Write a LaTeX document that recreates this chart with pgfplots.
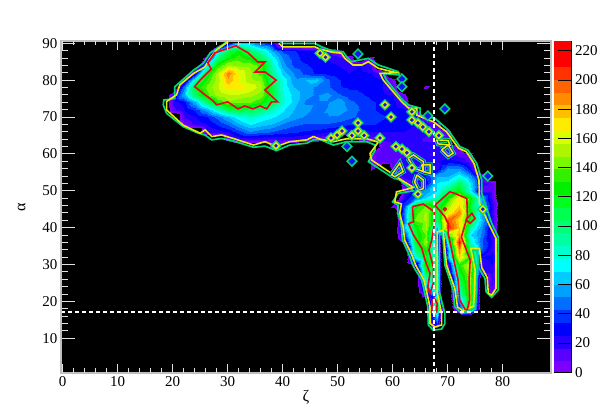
\documentclass[border=0pt]{standalone}
\usepackage{fontspec}
\setmainfont{Liberation Serif}
\usepackage{pgfplots}
\pgfplotsset{compat=1.18}
\definecolor{cgreen}{RGB}{0,215,120}
\definecolor{cyell}{RGB}{235,235,0}
\definecolor{cred}{RGB}{240,0,30}
\definecolor{cblue}{RGB}{20,20,240}
\definecolor{spine}{RGB}{190,190,190}
\definecolor{tickc}{RGB}{225,225,225}
\pgfplotsset{colormap={bands}{
rgb255=(0,0,0) rgb255=(0,0,0) rgb255=(0,0,0) rgb255=(0,0,0) rgb255=(125,0,255) rgb255=(90,0,255) rgb255=(40,0,255) rgb255=(0,0,255)
rgb255=(0,50,255) rgb255=(0,110,255) rgb255=(0,160,255) rgb255=(0,205,255) rgb255=(0,255,255)
rgb255=(0,255,205) rgb255=(0,255,160) rgb255=(0,255,120) rgb255=(0,255,80) rgb255=(0,255,30)
rgb255=(0,240,0) rgb255=(50,240,0) rgb255=(120,250,0) rgb255=(175,245,0) rgb255=(215,255,0)
rgb255=(255,235,0) rgb255=(255,190,0) rgb255=(255,140,0) rgb255=(255,100,0) rgb255=(255,50,0)
rgb255=(255,0,0) rgb255=(255,0,0)}}
\newcommand{\lobes}[2]{%
\addplot[#1,line width=#2] coordinates {(62.8,58.8)(63.8,59.7)(65.6,57.9)(65.6,55.2)(64,56.1)(62.8,58.8)};
\addplot[#1,line width=#2] coordinates {(65.3,57)(66.8,57)(66.8,54.7)(65.6,55.2)(65.3,57)};
\addplot[#1,line width=#2] coordinates {(64.4,54.3)(65.6,52.9)(65.6,50.6)(64.7,50.1)(64,52.4)(64.4,54.3)};
\addplot[#1,line width=#2] coordinates {(68,63.8)(70.1,63.6)(70.4,62.4)(68.3,62.7)(68,63.8)};
\addplot[#1,line width=#2] coordinates {(68.9,61.1)(70.1,62.4)(71,60.2)(70.1,59.3)(68.9,61.1)};
\addplot[#1,line width=#2] coordinates {(59.8,54.3)(61.3,57.5)(61.9,55.2)(60.4,53.8)(59.8,54.3)};
}
\begin{document}
\begin{tikzpicture}[x=1pt,y=1pt]
\path[use as bounding box] (0,0) rectangle (613,415);
\begin{axis}[
  at={(61pt,42.3pt)},anchor=south west,scale only axis,width=490pt,height=331.7pt,
  xmin=-0.3,xmax=88.8,ymin=0.68,ymax=90.6,
  xtick={0,10,...,80},ytick={10,20,...,90},minor y tick num=4,
  axis on top,
  axis background/.style={fill=black},
  axis line style={spine,line width=1.6pt},
  tick style={tickc,line width=0.9pt},
  major x tick style={draw=none},
  tick align=inside,
  major tick length=14pt,minor tick length=7pt,
  tick label style={font=\fontsize{15}{15}\selectfont},
  /pgf/number format/assume math mode=true,
  xlabel={ζ},ylabel={α},
  label style={font=\fontsize{16}{16}\selectfont},
  xlabel style={yshift=3pt},
  ylabel style={yshift=10pt},
  colormap name=bands,
  colormap access=piecewise constant,
  point meta min=-36.28,point meta max=226.6,
]
\addplot[surf,shader=interp,mesh/cols=30,mesh/ordering=x varies,point meta=\thisrow{c}] table[row sep=crcr]{
x y c\\
18 90 -30\\20 90 -30\\22 90 -30\\24 90 -30\\26 90 -30\\28 90 -30\\30 90 20\\32 90 70\\34 90 60\\36 90 40\\38 90 30\\40 90 -30\\42 90 -30\\44 90 -30\\46 90 -30\\48 90 -30\\50 90 -30\\52 90 -30\\54 90 -30\\56 90 -30\\58 90 -30\\60 90 -30\\62 90 -30\\64 90 -30\\66 90 -30\\68 90 -30\\70 90 -30\\72 90 -30\\74 90 -30\\76 90 -30\\
18 88 -30\\20 88 -30\\22 88 -30\\24 88 -30\\26 88 -30\\28 88 60\\30 88 110\\32 88 125\\34 88 105\\36 88 85\\38 88 60\\40 88 40\\42 88 35\\44 88 28\\46 88 25\\48 88 15\\50 88 5\\52 88 -30\\54 88 -30\\56 88 -30\\58 88 -30\\60 88 -30\\62 88 -30\\64 88 -30\\66 88 -30\\68 88 -30\\70 88 -30\\72 88 -30\\74 88 -30\\76 88 -30\\
18 86 -30\\20 86 -30\\22 86 -30\\24 86 -30\\26 86 10\\28 86 100\\30 86 125\\32 86 135\\34 86 125\\36 86 105\\38 86 75\\40 86 50\\42 86 38\\44 86 30\\46 86 28\\48 86 25\\50 86 20\\52 86 15\\54 86 -30\\56 86 8\\58 86 -30\\60 86 -30\\62 86 -30\\64 86 -30\\66 86 -30\\68 86 -30\\70 86 -30\\72 86 -30\\74 86 -30\\76 86 -30\\
18 84 -30\\20 84 -30\\22 84 -30\\24 84 -30\\26 84 60\\28 84 130\\30 84 150\\32 84 145\\34 84 145\\36 84 135\\38 84 85\\40 84 55\\42 84 40\\44 84 35\\46 84 30\\48 84 28\\50 84 25\\52 84 22\\54 84 25\\56 84 15\\58 84 -30\\60 84 -30\\62 84 -30\\64 84 -30\\66 84 -30\\68 84 -30\\70 84 -30\\72 84 -30\\74 84 -30\\76 84 -30\\
18 82 -30\\20 82 -30\\22 82 -30\\24 82 20\\26 82 115\\28 82 150\\30 82 190\\32 82 165\\34 82 150\\36 82 135\\38 82 95\\40 82 65\\42 82 50\\44 82 40\\46 82 32\\48 82 30\\50 82 28\\52 82 25\\54 82 28\\56 82 25\\58 82 15\\60 82 -30\\62 82 -30\\64 82 -30\\66 82 -30\\68 82 -30\\70 82 -30\\72 82 -30\\74 82 -30\\76 82 -30\\
18 80 -30\\20 80 -30\\22 80 10\\24 80 85\\26 80 130\\28 80 150\\30 80 180\\32 80 165\\34 80 150\\36 80 145\\38 80 105\\40 80 75\\42 80 55\\44 80 60\\46 80 65\\48 80 45\\50 80 35\\52 80 30\\54 80 30\\56 80 30\\58 80 28\\60 80 5\\62 80 -30\\64 80 -30\\66 80 -30\\68 80 -30\\70 80 -30\\72 80 -30\\74 80 -30\\76 80 -30\\
18 78 -30\\20 78 -30\\22 78 50\\24 78 120\\26 78 140\\28 78 155\\30 78 170\\32 78 170\\34 78 165\\36 78 150\\38 78 110\\40 78 75\\42 78 60\\44 78 55\\46 78 50\\48 78 45\\50 78 35\\52 78 32\\54 78 32\\56 78 30\\58 78 25\\60 78 10\\62 78 -30\\64 78 -30\\66 78 8\\68 78 -30\\70 78 -30\\72 78 -30\\74 78 -30\\76 78 -30\\
18 76 -30\\20 76 20\\22 76 60\\24 76 105\\26 76 135\\28 76 150\\30 76 155\\32 76 155\\34 76 150\\36 76 145\\38 76 115\\40 76 80\\42 76 65\\44 76 55\\46 76 50\\48 76 55\\50 76 45\\52 76 38\\54 76 35\\56 76 32\\58 76 28\\60 76 25\\62 76 5\\64 76 -30\\66 76 -30\\68 76 -30\\70 76 -30\\72 76 -30\\74 76 -30\\76 76 -30\\
18 74 -30\\20 74 20\\22 74 30\\24 74 60\\26 74 100\\28 74 130\\30 74 145\\32 74 140\\34 74 140\\36 74 130\\38 74 110\\40 74 80\\42 74 65\\44 74 50\\46 74 50\\48 74 50\\50 74 60\\52 74 45\\54 74 40\\56 74 35\\58 74 32\\60 74 28\\62 74 15\\64 74 -30\\66 74 -30\\68 74 -30\\70 74 -30\\72 74 -30\\74 74 -30\\76 74 -30\\
18 72 -30\\20 72 12\\22 72 25\\24 72 35\\26 72 55\\28 72 80\\30 72 105\\32 72 115\\34 72 105\\36 72 100\\38 72 85\\40 72 70\\42 72 60\\44 72 55\\46 72 48\\48 72 52\\50 72 60\\52 72 50\\54 72 42\\56 72 35\\58 72 32\\60 72 30\\62 72 28\\64 72 8\\66 72 -30\\68 72 -30\\70 72 -30\\72 72 -30\\74 72 -30\\76 72 -30\\
18 70 -30\\20 70 -30\\22 70 18\\24 70 25\\26 70 32\\28 70 45\\30 70 60\\32 70 75\\34 70 85\\36 70 75\\38 70 70\\40 70 65\\42 70 55\\44 70 50\\46 70 50\\48 70 50\\50 70 48\\52 70 45\\54 70 40\\56 70 38\\58 70 35\\60 70 32\\62 70 30\\64 70 25\\66 70 10\\68 70 -30\\70 70 -30\\72 70 -30\\74 70 -30\\76 70 -30\\
18 68 -30\\20 68 -30\\22 68 5\\24 68 20\\26 68 25\\28 68 35\\30 68 45\\32 68 60\\34 68 70\\36 68 65\\38 68 60\\40 68 50\\42 68 45\\44 68 42\\46 68 42\\48 68 42\\50 68 40\\52 68 35\\54 68 35\\56 68 35\\58 68 32\\60 68 30\\62 68 28\\64 68 25\\66 68 20\\68 68 10\\70 68 -30\\72 68 -30\\74 68 -30\\76 68 -30\\
18 66 -30\\20 66 -30\\22 66 -30\\24 66 -30\\26 66 15\\28 66 20\\30 66 25\\32 66 38\\34 66 50\\36 66 45\\38 66 42\\40 66 38\\42 66 35\\44 66 32\\46 66 30\\48 66 25\\50 66 20\\52 66 18\\54 66 20\\56 66 25\\58 66 25\\60 66 25\\62 66 25\\64 66 20\\66 66 18\\68 66 15\\70 66 8\\72 66 -30\\74 66 -30\\76 66 -30\\
18 64 -30\\20 64 -30\\22 64 -30\\24 64 -30\\26 64 -30\\28 64 -30\\30 64 8\\32 64 20\\34 64 20\\36 64 18\\38 64 15\\40 64 18\\42 64 18\\44 64 15\\46 64 10\\48 64 5\\50 64 -30\\52 64 -30\\54 64 5\\56 64 10\\58 64 18\\60 64 20\\62 64 22\\64 64 18\\66 64 15\\68 64 15\\70 64 12\\72 64 -30\\74 64 -30\\76 64 -30\\
18 62 -30\\20 62 -30\\22 62 -30\\24 62 -30\\26 62 -30\\28 62 -30\\30 62 -30\\32 62 -30\\34 62 -30\\36 62 -30\\38 62 5\\40 62 -30\\42 62 -30\\44 62 -30\\46 62 -30\\48 62 -30\\50 62 -30\\52 62 -30\\54 62 -30\\56 62 -30\\58 62 8\\60 62 15\\62 62 20\\64 62 20\\66 62 20\\68 62 18\\70 62 15\\72 62 5\\74 62 -30\\76 62 -30\\
18 60 -30\\20 60 -30\\22 60 -30\\24 60 -30\\26 60 -30\\28 60 -30\\30 60 -30\\32 60 -30\\34 60 -30\\36 60 -30\\38 60 -30\\40 60 -30\\42 60 -30\\44 60 -30\\46 60 -30\\48 60 -30\\50 60 -30\\52 60 -30\\54 60 -30\\56 60 5\\58 60 12\\60 60 12\\62 60 15\\64 60 18\\66 60 18\\68 60 18\\70 60 18\\72 60 12\\74 60 5\\76 60 -30\\
18 58 -30\\20 58 -30\\22 58 -30\\24 58 -30\\26 58 -30\\28 58 -30\\30 58 -30\\32 58 -30\\34 58 -30\\36 58 -30\\38 58 -30\\40 58 -30\\42 58 -30\\44 58 -30\\46 58 -30\\48 58 -30\\50 58 -30\\52 58 -30\\54 58 -30\\56 58 5\\58 58 12\\60 58 15\\62 58 18\\64 58 22\\66 58 20\\68 58 25\\70 58 30\\72 58 25\\74 58 10\\76 58 -30\\
};
\addplot[surf,shader=interp,mesh/cols=15,mesh/ordering=x varies,point meta=\thisrow{c}] table[row sep=crcr]{
x y c\\
56 58 5\\58 58 12\\60 58 15\\62 58 18\\64 58 22\\66 58 20\\68 58 25\\69 58 28\\70 58 30\\72 58 25\\74 58 10\\76 58 -30\\78 58 -30\\80 58 -30\\82 58 -30\\
56 56 5\\58 56 -30\\60 56 5\\62 56 18\\64 56 25\\66 56 22\\68 56 20\\69 56 40\\70 56 55\\72 56 55\\74 56 30\\76 56 -30\\78 56 -30\\80 56 -30\\82 56 -30\\
56 54 -30\\58 54 -30\\60 54 5\\62 54 20\\64 54 22\\66 54 35\\68 54 60\\69 54 60\\70 54 60\\72 54 75\\74 54 55\\76 54 20\\78 54 -30\\80 54 -30\\82 54 -30\\
56 52 -30\\58 52 -30\\60 52 -30\\62 52 10\\64 52 20\\66 52 30\\68 52 70\\69 52 72\\70 52 75\\72 52 105\\74 52 70\\76 52 25\\78 52 12\\80 52 -30\\82 52 -30\\
56 50 -30\\58 50 -30\\60 50 -30\\62 50 5\\64 50 35\\66 50 55\\68 50 70\\69 50 90\\70 50 105\\72 50 125\\74 50 75\\76 50 10\\78 50 12\\80 50 -30\\82 50 -30\\
56 48 -30\\58 48 -30\\60 48 -30\\62 48 25\\64 48 45\\66 48 70\\68 48 90\\69 48 110\\70 48 130\\72 48 170\\74 48 130\\76 48 60\\78 48 15\\80 48 -30\\82 48 -30\\
56 46 -30\\58 46 -30\\60 46 5\\62 46 40\\64 46 125\\66 46 140\\68 46 115\\69 46 130\\70 46 150\\72 46 175\\74 46 120\\76 46 65\\78 46 25\\80 46 -30\\82 46 -30\\
56 44 -30\\58 44 -30\\60 44 -30\\62 44 50\\64 44 135\\66 44 150\\68 44 105\\69 44 140\\70 44 165\\72 44 190\\74 44 125\\76 44 60\\78 44 20\\80 44 -30\\82 44 -30\\
56 42 -30\\58 42 -30\\60 42 -30\\62 42 45\\64 42 140\\66 42 150\\68 42 100\\69 42 150\\70 42 200\\72 42 170\\74 42 120\\76 42 65\\78 42 25\\80 42 -30\\82 42 -30\\
56 40 -30\\58 40 -30\\60 40 -30\\62 40 60\\64 40 120\\66 40 150\\68 40 60\\69 40 140\\70 40 210\\72 40 175\\74 40 90\\76 40 55\\78 40 20\\80 40 -30\\82 40 -30\\
56 38 -30\\58 38 -30\\60 38 -30\\62 38 35\\64 38 115\\66 38 140\\68 38 35\\69 38 -5\\70 38 140\\72 38 185\\74 38 70\\76 38 50\\78 38 20\\80 38 -30\\82 38 -30\\
56 36 -30\\58 36 -30\\60 36 -30\\62 36 5\\64 36 115\\66 36 150\\68 36 50\\69 36 -30\\70 36 90\\72 36 215\\74 36 85\\76 36 45\\78 36 25\\80 36 -30\\82 36 -30\\
56 34 -30\\58 34 -30\\60 34 -30\\62 34 -30\\64 34 100\\66 34 130\\68 34 60\\69 34 -30\\70 34 55\\72 34 190\\74 34 110\\76 34 45\\78 34 20\\80 34 -30\\82 34 -30\\
56 32 -30\\58 32 -30\\60 32 -30\\62 32 -30\\64 32 75\\66 32 120\\68 32 80\\69 32 -30\\70 32 60\\72 32 175\\74 32 130\\76 32 25\\78 32 30\\80 32 -30\\82 32 -30\\
56 30 -30\\58 30 -30\\60 30 -30\\62 30 -30\\64 30 5\\66 30 140\\68 30 90\\69 30 -30\\70 30 10\\72 30 130\\74 30 160\\76 30 15\\78 30 25\\80 30 -30\\82 30 -30\\
56 28 -30\\58 28 -30\\60 28 -30\\62 28 -30\\64 28 -30\\66 28 120\\68 28 90\\69 28 -30\\70 28 5\\72 28 120\\74 28 150\\76 28 15\\78 28 20\\80 28 -30\\82 28 -30\\
56 26 -30\\58 26 -30\\60 26 -30\\62 26 -30\\64 26 -30\\66 26 90\\68 26 100\\69 26 -30\\70 26 -30\\72 26 110\\74 26 150\\76 26 -30\\78 26 20\\80 26 -30\\82 26 -30\\
56 24 -30\\58 24 -30\\60 24 -30\\62 24 -30\\64 24 -30\\66 24 60\\68 24 110\\69 24 -30\\70 24 -30\\72 24 95\\74 24 150\\76 24 -30\\78 24 15\\80 24 -30\\82 24 -30\\
56 22 -30\\58 22 -30\\60 22 -30\\62 22 -30\\64 22 -30\\66 22 20\\68 22 70\\69 22 -30\\70 22 -30\\72 22 80\\74 22 150\\76 22 -30\\78 22 5\\80 22 -30\\82 22 -30\\
56 20 -30\\58 20 -30\\60 20 -30\\62 20 -30\\64 20 -30\\66 20 -30\\68 20 135\\69 20 -30\\70 20 -30\\72 20 50\\74 20 150\\76 20 -30\\78 20 -30\\80 20 -30\\82 20 -30\\
56 18 -30\\58 18 -30\\60 18 -30\\62 18 -30\\64 18 -30\\66 18 -30\\68 18 125\\69 18 5\\70 18 -30\\72 18 30\\74 18 140\\76 18 -30\\78 18 -30\\80 18 -30\\82 18 -30\\
56 16 -30\\58 16 -30\\60 16 -30\\62 16 -30\\64 16 -30\\66 16 -30\\68 16 70\\69 16 -30\\70 16 -30\\72 16 -30\\74 16 -30\\76 16 -30\\78 16 -30\\80 16 -30\\82 16 -30\\
56 14 -30\\58 14 -30\\60 14 -30\\62 14 -30\\64 14 -30\\66 14 -30\\68 14 35\\69 14 -30\\70 14 -30\\72 14 -30\\74 14 -30\\76 14 -30\\78 14 -30\\80 14 -30\\82 14 -30\\
56 12 -30\\58 12 -30\\60 12 -30\\62 12 -30\\64 12 -30\\66 12 -30\\68 12 -30\\69 12 -30\\70 12 -30\\72 12 -30\\74 12 -30\\76 12 -30\\78 12 -30\\80 12 -30\\82 12 -30\\
};
% contour at the outer edge
\addplot[cgreen,line width=1.7pt] coordinates {(30.1,90.6)(26.8,87.3)(25.6,84.6)(23.8,82.7)(20.4,78.2)(20.4,75)(18.4,74.6)(18.3,73.3)(18.9,71)(21.9,67.4)(24.7,65.6)(25.9,65.1)(27.1,63.8)(28.9,64.2)(31,63.5)(34.7,61.8)(36.8,62.1)(38.9,60.9)(41.3,62.4)(44.4,62.9)(45.6,63.8)(46.8,63.9)(49.2,62.4)(51.6,63.3)(55.3,63.3)(56.8,62.4)(56.8,61)(55.6,57.9)(59.8,53.8)(61.3,52.9)(63.8,50)(61,49.3)(60,47)(61,46.1)(60.9,43.9)(61.5,41.6)(61.8,36.6)(62.9,33)(63.8,29.4)(65.3,25.8)(66.4,18.6)(66.5,13.6)(67.4,12.2)(68.9,12.5)(69.5,14)(69.5,16.7)(68.5,22.6)(68.5,38)(69.1,38.4)(69.5,29.9)(71,23.1)(71.3,18.6)(72.5,16.7)(75,18.1)(75.3,23.1)(75.3,28.5)(74.5,33.9)(75.3,33.7)(75.7,29)(76.8,26.2)(77,22.6)(78,21.1)(79.2,23.1)(79.2,37.5)(78,41.2)(76.2,49.3)(76.2,52.9)(75.3,57.4)(73.7,61)(72.2,62)(70.1,66.5)(67.7,69.6)(65,70.5)(65,72.4)(62.8,73.3)(61.6,75)(58.9,80)(58.3,81.8)(61.2,81.4)(61,82.3)(57.4,84.1)(55.6,85.9)(52.5,85)(51.6,86.4)(51,87.7)(49.1,87.9)(47.1,89)(45.9,89.9)(40,89.9)(39.5,90.6)};
% contour just inside it
\addplot[cyell,line width=1.6pt] coordinates {(30.1,90.4)(28,88.2)(26.8,85.9)(25.9,83.6)(23.8,81.8)(21.3,78.7)(20.7,76)(18.9,74.2)(18.9,71.9)(21.9,67.8)(25,65.6)(25.9,66.5)(27.1,64.7)(28.9,65.1)(31,64.2)(34.7,62.4)(36.8,63.3)(38.9,62)(41.3,63.3)(44.4,63.8)(45.6,64.7)(46.8,64)(49.2,63.3)(51.6,64.1)(55.3,64.1)(57.4,63.2)(55.9,60.1)(56.2,58.3)(59.8,54.7)(61.6,52.9)(63.8,50.9)(60.7,49.7)(60.4,47)(61.6,46.4)(61.3,43.9)(61.9,40.3)(62.2,36.6)(63.5,32.6)(64.2,29.8)(65.7,25.8)(66.8,18.5)(66.8,14)(67.7,13.1)(68.9,13.6)(68.9,16.7)(68.1,22.6)(68.1,38.9)(69.2,39.3)(69.8,29.9)(71.3,23.5)(71.8,18.5)(72.7,17.5)(74.7,18.7)(74.9,23.1)(75,28.5)(74.2,34.4)(75.8,34.4)(76.2,29.2)(77.2,26.5)(77.4,22.2)(78,21.7)(78.8,23.5)(78.8,37.1)(77.6,40.7)(75.8,46.6)(75.7,52.9)(74.8,57.4)(73.4,60.6)(72,61.5)(69.8,66)(67.4,68.7)(64.4,70.5)(64.4,72.4)(62.9,72.4)(61.6,74.2)(58.3,80)(57.7,81.8)(60.7,82)(57.4,83.2)(55.6,85)(54.4,84.1)(52.8,84.1)(51.3,85.9)(50.7,87.3)(49.2,87.5)(46.8,88.4)(45.9,89)(40,89)(39.3,90)};
% closed lobes inside the arm
\lobes{cgreen}{5pt}
\lobes{cblue}{3pt}
\lobes{cyell}{1.5pt}
% isolated cells
\addplot[only marks,mark=square*,mark size=3.4pt,mark options={rotate=45,draw=cgreen,fill=cblue,line width=1.5pt}] coordinates {(46.8,87.3)(47.8,86.2)(38.8,62.2)(48.8,64.3)(49.9,65.1)(50.8,66.2)(51.7,62)(53.7,87.1)(61.7,80.3)(61.7,78.2)(58.6,73.3)(59.7,70)(69.5,72.2)(66.4,70.3)(63.5,71.4)(63.5,69.2)(64.6,68.4)(65.5,67.3)(66.6,66)(68.4,65)(53.7,68.4)(53.7,66.2)(52.6,65)(54.8,65)(57.7,64.3)(52.6,58)(60.6,62)(61.7,61.3)(62.6,60.3)(63.5,56.2)(64.6,49.1)(77.3,54)(76.4,45)};
\addplot[only marks,mark=square,mark size=2.2pt,mark options={rotate=45,draw=cyell,line width=1.3pt}] coordinates {(46.8,87.3)(47.8,86.2)(38.8,62.2)(48.8,64.3)(49.9,65.1)(50.8,66.2)(53.7,68.4)(53.7,66.2)(52.6,65)(54.8,65)(57.7,64.3)(60.6,62)(61.7,61.3)(62.6,60.3)(63.5,56.2)(64.6,49.1)(63.5,69.2)(64.6,68.4)(65.5,67.3)(66.6,66)(68.4,65)(63.5,71.4)(76.4,45)(58.6,73.3)(59.7,70)};
% high contours
\addplot[cred,line width=1.6pt] coordinates {(31.5,89.3)(29.9,88.5)(27.7,87.4)(26.4,84.7)(27,83)(25,80)(24,78.2)(27.3,74.4)(28,73.3)(30,74.1)(31.9,72.2)(33.1,73)(34.6,72.2)(35.9,73)(37.1,72.2)(38,74.1)(39.1,74.1)(36.8,77.3)(38.8,80)(36.8,82.2)(35,82.2)(36.8,84.9)(35.5,84.9)(33.7,87.4)(31.5,89.3)};
\addplot[cred,line width=1.6pt] coordinates {(63.6,45.7)(65.6,46.4)(67.6,44.3)(67.6,41.1)(67.1,36.6)(66.6,33.9)(67.4,29.4)(67.4,24.9)(66.8,22.2)(66.4,24)(66.8,27.6)(65.9,31.2)(65.3,34.4)(63.8,38)(62.9,41.1)(63.8,41.6)(63.6,45.7)};
\addplot[cred,line width=1.6pt] coordinates {(67.7,46.1)(70.4,49.7)(71.3,49.3)(73.5,47.9)(73.6,43)(72.5,37.5)(74.1,31.2)(73.9,25.8)(74,20.4)(73.6,17.8)(73.2,17.8)(72.2,20.4)(71.9,25.8)(71,32.1)(70.1,38.4)(70.1,41.1)(69.5,43)(67.7,46.1)};
\addplot[cred,line width=1.6pt] coordinates {(73.3,42.1)(74.4,43.9)(75,42.5)(74.1,41.2)(73.3,42.1)};
\addplot[cred,line width=1.6pt] coordinates {(67.6,20.8)(68.1,19.4)(68,17.2)(67.1,17.2)(67.2,19.9)(67.6,20.8)};
\addplot[only marks,mark=o,mark size=1.5pt,mark options={draw=cred,line width=1.2pt}] coordinates {(69.5,45)};
% cross hairs
\addplot[white,line width=2pt,dash pattern=on 3.8pt off 3.2pt] coordinates {(67.56,0.68)(67.56,90.6)};
\addplot[white,line width=2pt,dash pattern=on 3.8pt off 3.2pt] coordinates {(-0.3,17)(88.8,17)};
\end{axis}
% x ticks are shorter than y ticks, so they get an axis of their own
\begin{axis}[
  at={(61pt,42.3pt)},anchor=south west,scale only axis,width=490pt,height=331.7pt,
  xmin=-0.3,xmax=88.8,ymin=0.68,ymax=90.6,
  xtick={0,10,...,80},minor x tick num=4,ytick=\empty,xticklabels={},
  axis line style={draw=none},
  tick style={tickc,line width=0.9pt},
  tick align=inside,major tick length=9pt,minor tick length=4.5pt,
]
\end{axis}
\begin{axis}[
  at={(553.5pt,42.3pt)},anchor=south west,scale only axis,width=18.2pt,height=331.7pt,
  xmin=0,xmax=1,ymin=-0.3,ymax=226.6,
  axis x line=bottom,axis y line=right,
  axis line style={-,black,line width=0.7pt},
  axis on top,
  xtick=\empty,ytick={0,20,...,220},
  tick style={black,line width=0.7pt},tick align=inside,major tick length=14pt,
  tick label style={font=\fontsize{15}{15}\selectfont},
  /pgf/number format/assume math mode=true,
  colormap name=bands,
  colormap access=piecewise constant,
  point meta min=-36.28,point meta max=226.6,
]
\addplot[surf,shader=interp,mesh/cols=2,mesh/ordering=x varies,point meta=\thisrow{c}] table[row sep=crcr]{
x y c\\
0 0 0\\1 0 0\\
0 226.6 226.6\\1 226.6 226.6\\
};
\end{axis}
\end{tikzpicture}
\end{document}
